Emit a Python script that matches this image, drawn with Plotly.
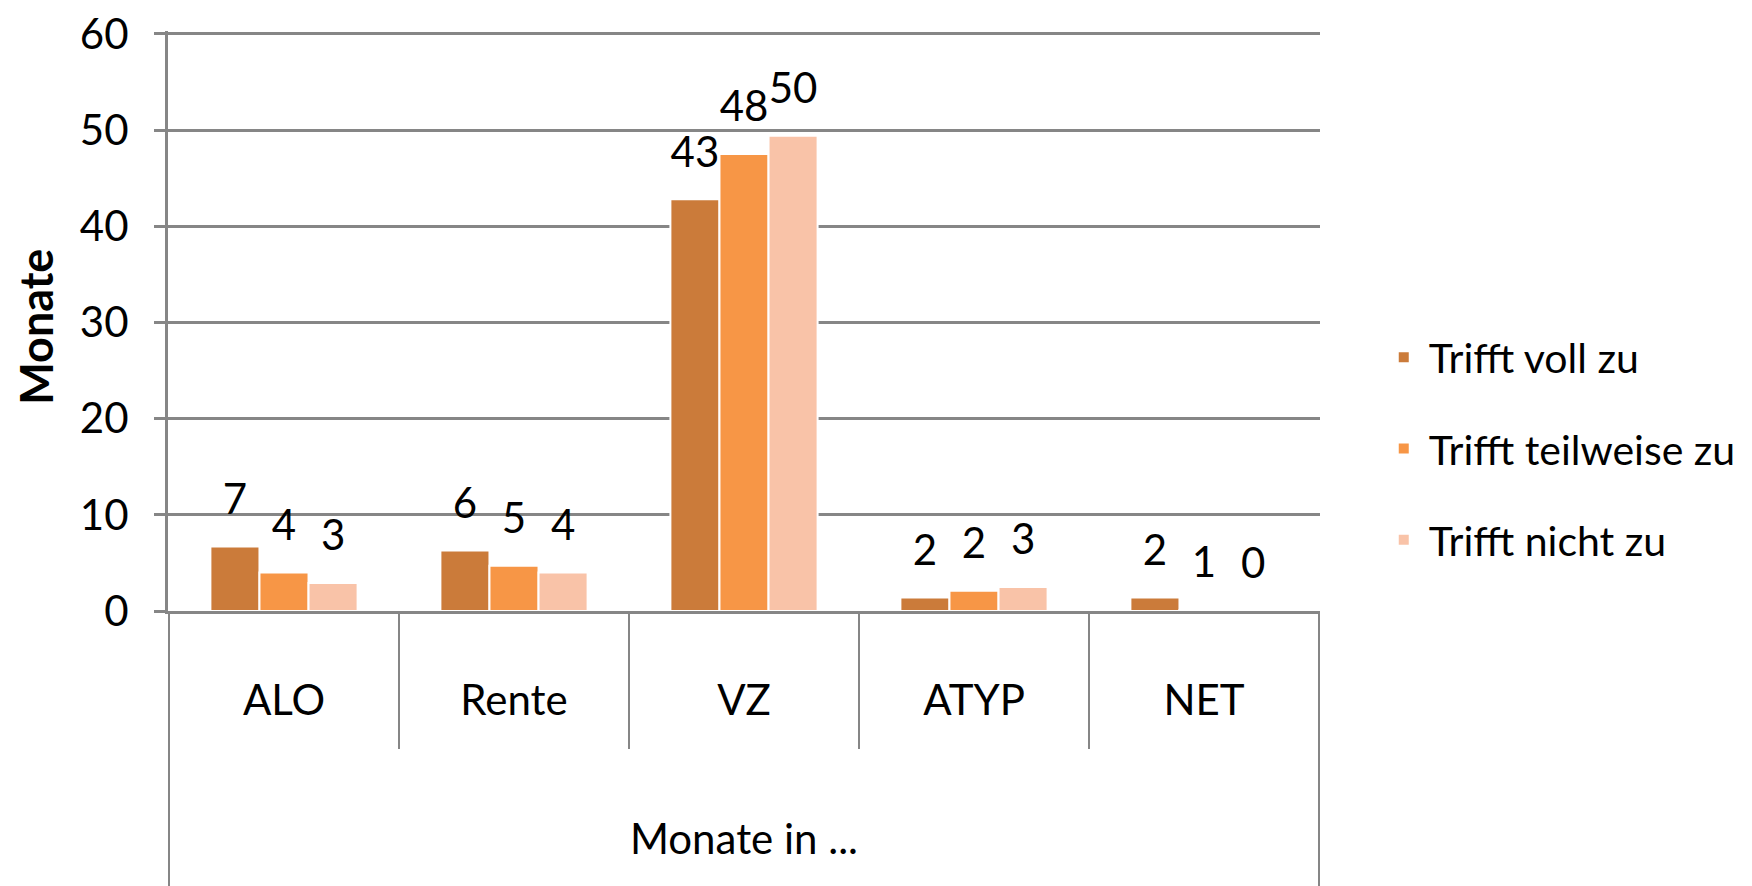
import plotly.graph_objects as go

categories = ["ALO", "Rente", "VZ", "ATYP", "NET"]
series_names = ["Trifft voll zu", "Trifft teilweise zu", "Trifft nicht zu"]
voll = [6.7, 6.3, 42.8, 1.4, 1.4]
teilweise = [4.0, 4.7, 47.5, 2.1, 0.1]
nicht = [2.9, 4.0, 49.4, 2.5, 0.05]
labels_voll = ["7", "6", "43", "2", "2"]
labels_teilweise = ["4", "5", "48", "2", "1"]
labels_nicht = ["3", "4", "50", "3", "0"]
colors = ["#CB7B3A", "#F79646", "#F9C3A8"]
y_ticks = [0, 10, 20, 30, 40, 50, 60]
y_title = "Monate"
x_title = "Monate in ..."

FONT = "Lato, 'Open Sans', sans-serif"
GRID = "#868686"
FS = 42

fig = go.Figure()
values = [voll, teilweise, nicht]
labels = [labels_voll, labels_teilweise, labels_nicht]
for name, vals, col in zip(series_names, values, colors):
    fig.add_trace(go.Bar(
        x=categories, y=vals, name=name, legendgroup=name,
        marker=dict(color=col, line=dict(color="white", width=2)),
    ))
for name, vals, labs in zip(series_names, values, labels):
    fig.add_trace(go.Scatter(
        x=categories, y=vals, mode="markers+text", text=labs,
        textposition="top center", showlegend=False, hoverinfo="skip",
        marker=dict(size=34, opacity=0),
        textfont=dict(family=FONT, size=FS, color="black"),
        cliponaxis=False,
    ))

shapes = []
# category separators below the axis
for i in range(len(categories) + 1):
    xb = i - 0.5
    outer = i == 0 or i == len(categories)
    shapes.append(dict(type="line", xref="x", yref="paper", x0=xb, x1=xb,
                       y0=0, y1=-0.48 if outer else -0.238,
                       line=dict(color=GRID, width=2)))

fig.update_layout(
    width=1744, height=878,
    margin=dict(l=160, r=432, t=23, b=275, autoexpand=False),
    paper_bgcolor="white", plot_bgcolor="white",
    barmode="group", bargap=0.36, bargroupgap=0.0,
    scattermode="group", scattergap=0.36,
    font=dict(family=FONT, size=FS, color="black"),
    showlegend=True,
    legend=dict(x=1.051, y=0.28, xanchor="left", yanchor="middle",
                font=dict(family=FONT, size=41, color="black"),
                traceorder="grouped", tracegroupgap=35, itemwidth=40,
                bgcolor="rgba(0,0,0,0)"),
    shapes=shapes,
    annotations=[dict(text=y_title, xref="paper", yref="paper", x=-0.1146, y=0.49,
                      xanchor="center", yanchor="middle", textangle=-90,
                      showarrow=False,
                      font=dict(family=FONT, size=45, color="black", weight="bold"))],
)
fig.update_yaxes(
    range=[0, 60.3], tickvals=y_ticks, showgrid=True, gridcolor=GRID, gridwidth=3,
    ticks="outside", ticklen=11, tickcolor=GRID, tickwidth=3,
    showline=True, linecolor=GRID, linewidth=3, zeroline=False,
    ticklabelstandoff=17, automargin=False, ticklabeloverflow="allow",
    tickfont=dict(family=FONT, size=FS, color="black"),
)
fig.update_xaxes(
    type="category", showgrid=False, ticks="", showline=True, linecolor=GRID,
    linewidth=3, automargin=False, ticklabelstandoff=51,
    tickfont=dict(family=FONT, size=FS, color="black"),
    title=dict(text=x_title, standoff=102,
               font=dict(family=FONT, size=FS, color="black")),
)

fig.write_html("out.html")
